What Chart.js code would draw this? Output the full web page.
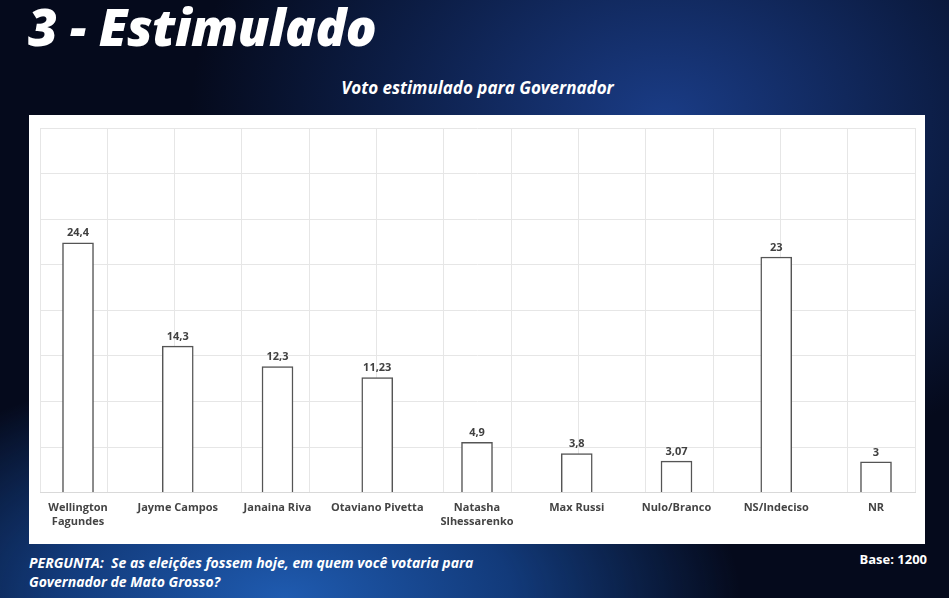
<!DOCTYPE html>
<html><head><meta charset="utf-8">
<script src="https://cdn.jsdelivr.net/npm/chart.js@4/dist/chart.umd.min.js"></script>
<style>
html,body{margin:0;padding:0;width:949px;height:598px;overflow:hidden;font-family:"Open Sans",sans-serif;}
body{background:radial-gradient(ellipse 60% 50% at 30% 100%,#1f5bb0 0%,#123a7a 40%,rgba(10,20,50,0) 80%),radial-gradient(ellipse 50% 60% at 70% 20%,#1a3c86 0%,#0c1d45 60%,#050a1c 100%);}
#title{position:absolute;left:28px;top:-9px;color:#fff;font:italic 800 51px "Open Sans",sans-serif;letter-spacing:-0.5px;}
#sub{position:absolute;left:0;width:955px;top:76px;text-align:center;color:#fff;font:italic bold 17px "Open Sans",sans-serif;}
#card{position:absolute;left:29px;top:115px;width:896px;height:429px;background:#fff;}
#q{position:absolute;left:29px;top:553px;color:#fff;font:italic bold 14px "Open Sans",sans-serif;line-height:19px;}
#base{position:absolute;right:22px;top:550px;color:#fff;font:bold 13px "Open Sans",sans-serif;}
</style></head><body>
<div id="title">3 - Estimulado</div>
<div id="sub">Voto estimulado para Governador</div>
<div id="card"><canvas id="c" width="896" height="429"></canvas></div>
<div id="q">PERGUNTA:&nbsp; Se as eleições fossem hoje, em quem você votaria para<br>Governador de Mato Grosso?</div>
<div id="base">Base: 1200</div>
<script>
const categories=[["Wellington","Fagundes"],"Jayme Campos","Janaina Riva","Otaviano Pivetta",["Natasha","Slhessarenko"],"Max Russi","Nulo/Branco","NS/Indeciso","NR"];
const values=[24.4,14.3,12.3,11.23,4.9,3.8,3.07,23,3];
const valueLabels=["24,4","14,3","12,3","11,23","4,9","3,8","3,07","23","3"];
const labelPlugin={id:'lbl',afterDatasetsDraw(ch){const c=ch.ctx;const m=ch.getDatasetMeta(0);c.save();c.font='bold 11px "Open Sans"';c.fillStyle='#404040';c.textAlign='center';c.textBaseline='bottom';m.data.forEach((b,i)=>c.fillText(valueLabels[i],b.x,b.y-4));c.restore();}};
new Chart(document.getElementById('c'),{type:'bar',
data:{datasets:[{data:values.map((v,i)=>({x:i,y:v})),backgroundColor:'#fff',borderColor:'#555',borderWidth:1.5,barThickness:31,xAxisID:'x'}]},
plugins:[labelPlugin],
options:{responsive:false,animation:false,layout:{padding:{left:11,right:10,top:13,bottom:15}},
plugins:{legend:{display:false},tooltip:{enabled:false}},
scales:{
x:{type:'linear',offset:false,min:-0.381,max:8.391,grid:{display:false},border:{color:'#d9d9d9'},
 afterBuildTicks(a){a.ticks=categories.map((_,i)=>({value:i}));},
 ticks:{autoSkip:false,maxRotation:0,padding:1,color:'#444',font:{size:11,weight:'bold',family:'"Open Sans"'},callback:(v)=>categories[v]}},
xg:{type:'linear',offset:false,position:'top',min:0,max:13,ticks:{display:false,stepSize:1},grid:{offset:false,color:'#e6e6e6',drawTicks:false},border:{display:false}},
y:{min:0,max:35.6,ticks:{display:false,stepSize:4.45},grid:{color:'#e6e6e6',drawTicks:false},border:{display:false}}
}}});
</script></body></html>
